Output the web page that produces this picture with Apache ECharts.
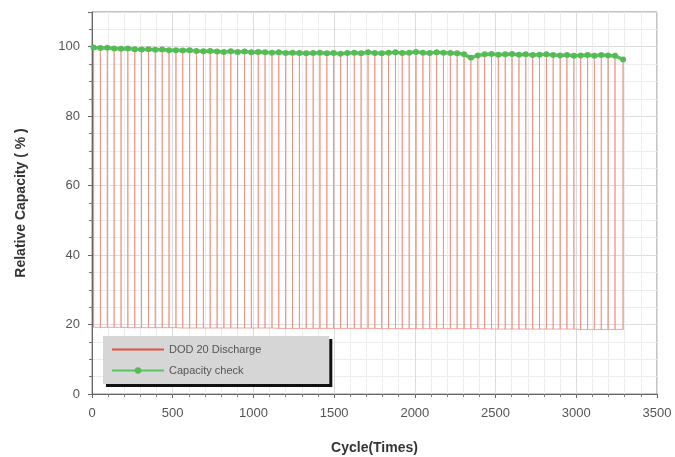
<!DOCTYPE html>
<html><head><meta charset="utf-8">
<script src="https://cdn.jsdelivr.net/npm/echarts@6/dist/echarts.min.js"></script>
<style>html,body{margin:0;padding:0;background:#fff}#c{width:675px;height:457px}</style>
</head><body><div id="c"></div>
<script>
// cycle numbers at which a capacity check / discharge is drawn
const cycles = [10,52,95,137,180,222,265,307,350,392,435,477,520,562,605,647,690,732,775,817,860,902,945,987,1030,1072,1115,1157,1200,1242,1285,1327,1370,1412,1455,1497,1540,1582,1625,1667,1710,1752,1795,1837,1880,1922,1965,2007,2050,2092,2135,2177,2220,2262,2305,2347,2390,2432,2475,2517,2560,2602,2645,2687,2730,2772,2815,2857,2900,2942,2985,3027,3070,3112,3155,3197,3240,3290];
// relative capacity (%) at capacity check
const capacity = [99.8,99.6,99.7,99.5,99.4,99.5,99.3,99.2,99.3,99.1,99.2,99.0,99.0,98.9,99.0,98.8,98.7,98.8,98.6,98.5,98.7,98.5,98.6,98.4,98.5,98.4,98.3,98.4,98.2,98.3,98.2,98.1,98.2,98.3,98.1,98.2,98.0,98.2,98.3,98.1,98.4,98.2,98.1,98.3,98.4,98.2,98.3,98.5,98.3,98.2,98.4,98.3,98.2,98.1,97.8,96.8,97.5,97.8,97.9,97.7,97.8,97.9,97.7,97.8,97.6,97.7,97.8,97.6,97.5,97.6,97.4,97.5,97.6,97.4,97.6,97.5,97.4,96.3];
// end-of-discharge level (%) for DOD 20 cycling
const dodBottom = [19.2,19.2,19.2,19.2,19.2,19.1,19.1,19.1,19.1,19.1,19.1,19.1,19.1,19.0,19.0,19.0,19.0,19.0,19.0,19.0,19.0,19.0,19.0,19.0,19.0,19.0,19.0,18.9,18.9,18.9,18.9,18.9,18.9,18.9,18.9,18.9,18.9,18.9,18.9,18.9,18.9,18.9,18.8,18.8,18.8,18.8,18.8,18.8,18.8,18.8,18.8,18.8,18.8,18.8,18.8,18.8,18.8,18.8,18.7,18.7,18.7,18.7,18.7,18.7,18.7,18.7,18.7,18.7,18.7,18.7,18.7,18.6,18.6,18.6,18.6,18.6,18.6,18.6];
const seriesNames = ['DOD 20 Discharge','Capacity check'];

const redData = [];
for (let i = 0; i < cycles.length; i++) {
  redData.push([cycles[i], dodBottom[i]]);
  redData.push([cycles[i], capacity[i] - 0.8]);
  redData.push([cycles[i], dodBottom[i]]);
}
const greenData = cycles.map((c, i) => [c, capacity[i]]);

const chart = echarts.init(document.getElementById('c'));
const font = 'Liberation Sans, Arial, sans-serif';
chart.setOption({
  animation: false,
  grid: {left: 92, top: 12, right: 18, bottom: 63, show: true, borderColor: '#8a8a8a', borderWidth: 1,
         containLabel: false, outerBoundsMode: 'none'},
  xAxis: {
    type: 'value', min: 0, max: 3500, interval: 500,
    name: 'Cycle(Times)', nameLocation: 'middle', nameGap: 47,
    nameTextStyle: {fontFamily: font, fontWeight: 'bold', fontSize: 14, color: '#333'},
    axisLine: {lineStyle: {color: '#666'}},
    axisTick: {inside: false, length: 4, lineStyle: {color: '#666'}},
    minorTick: {show: true, splitNumber: 5, length: 3, lineStyle: {color: '#777'}},
    axisLabel: {fontFamily: font, fontSize: 13, color: '#555', margin: 13, formatter: v => String(v)},
    splitLine: {show: true, lineStyle: {color: '#dcdcdc'}},
    minorSplitLine: {show: true, lineStyle: {color: '#ececec'}}
  },
  yAxis: {
    type: 'value', min: 0, max: 110, interval: 20,
    name: 'Relative Capacity ( % )', nameLocation: 'middle', nameGap: 64,
    nameTextStyle: {fontFamily: font, fontWeight: 'bold', fontSize: 14, color: '#333'},
    axisLine: {show: true, lineStyle: {color: '#666'}},
    axisTick: {show: true, length: 4, lineStyle: {color: '#666'}},
    minorTick: {show: true, splitNumber: 4, length: 3, lineStyle: {color: '#777'}},
    axisLabel: {fontFamily: font, fontSize: 13, color: '#555', margin: 12, showMaxLabel: false},
    splitLine: {show: true, lineStyle: {color: '#dcdcdc'}},
    minorSplitLine: {show: true, lineStyle: {color: '#ececec'}}
  },
  legend: {
    orient: 'vertical', left: 103, top: 336,
    backgroundColor: '#d6d6d6', padding: [8, 68, 8, 8],
    shadowColor: '#111', shadowOffsetX: 3, shadowOffsetY: 3, shadowBlur: 0,
    itemWidth: 52, itemHeight: 8, itemGap: 10,
    textStyle: {fontFamily: font, fontSize: 11, color: '#555'},
    data: [{name: seriesNames[0], itemStyle: {opacity: 0}, lineStyle: {color: '#e8503c', width: 2, opacity: 1}},
           {name: seriesNames[1]}]
  },
  series: [
    {name: seriesNames[0], type: 'line', data: redData, symbol: 'none',
     lineStyle: {color: '#ee8a7a', width: 1, opacity: 0.75}, itemStyle: {color: '#e8563f'}, z: 2},
    {name: seriesNames[1], type: 'line', data: greenData, symbol: 'circle', symbolSize: 6,
     lineStyle: {color: '#5cc45c', width: 3.5}, itemStyle: {color: '#55bb55'}, z: 3}
  ]
});
</script></body></html>
